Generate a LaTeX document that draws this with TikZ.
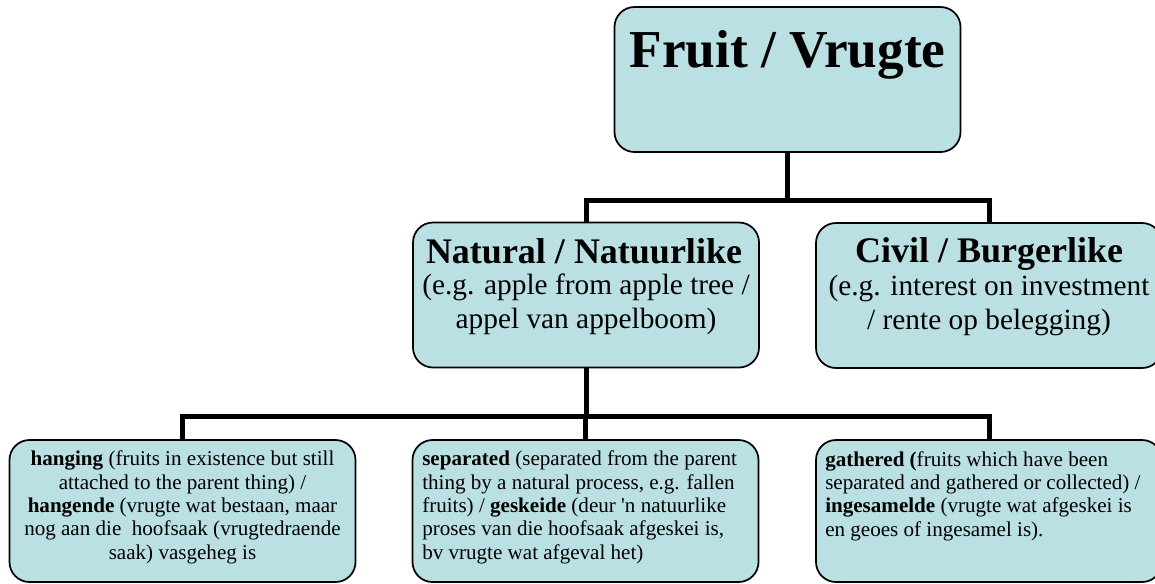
\documentclass[tikz,border=0pt]{standalone}
\usepackage{fontspec}
\setmainfont{Liberation Serif}
\newfontfamily\plainserif{Liberation Serif}
\definecolor{boxblue}{RGB}{187,224,227}

\begin{document}
\begin{tikzpicture}[x=0.75pt, y=-0.75pt,
        box/.style={draw=black, fill=boxblue, line width=1.3pt, rounded corners=15pt, minimum width=259.5pt, minimum height=108.75pt, inner sep=0pt},
        lowbox/.style={box, minimum height=106.5pt},
        link/.style={line width=3.75pt},
        bigtitle/.style={font=\fontsize{40}{46}\selectfont\bfseries, inner sep=0pt},
        midtitle/.style={font=\fontsize{27}{31}\selectfont\bfseries, inner sep=0pt, text depth=0pt},
        midtext/.style={font=\fontsize{22}{25.5}\selectfont, align=center, inner sep=0pt},
        lowtext/.style={font=\fontsize{15.8}{17.5}\selectfont, inner sep=0pt}]
        \useasboundingbox (0,0) rectangle (1155,583);

        % boxes
        \node[box] (fruit) at (787.5, 79.5) {};
        \node[box] (natural) at (586.0, 295.0) {};
        \node[box] (civil) at (989.0, 295.5) {};
        \node[lowbox] (hanging) at (182.5, 511.0) {};
        \node[lowbox] (separated) at (585.5, 511.0) {};
        \node[lowbox] (gathered) at (989.0, 511.0) {};

        % connectors
        \draw[link] (fruit.south) -- ++(0, 48) -| (natural.north);
        \draw[link] (fruit.south) -- ++(0, 48) -| (civil.north);
        \draw[link] (natural.south) -- ++(0, 48) -| (hanging.north);
        \draw[link] (natural.south) -- ++(0, 48) -| (separated.north);
        \draw[link] (natural.south) -- ++(0, 48) -| (gathered.north);

        % texts (multi-line nodes sit on the baseline of their last line)
        \node[bigtitle, anchor=base] (fruittitle) at (787.5, 67) {Fruit / Vrugte};

        \node[midtitle, anchor=base] (naturaltitle) at (584.0, 263) {Natural / Natuurlike};
        \node[midtext, anchor=base] (naturaltext) at (586.0, 328) {(e.g. apple from apple tree /\\appel van appelboom)};

        \node[midtitle, anchor=base] (civiltitle) at (989.0, 262) {Civil / Burgerlike};
        \node[midtext, anchor=base] (civiltext) at (989.0, 329) {(e.g. interest on investment\\/ rente op belegging)};

        \node[lowtext, align=center, anchor=base] (hangingtext) at (182.5, 559) {\textbf{hanging} (fruits in existence but still\\attached to the parent thing) /\\\textbf{hangende} (vrugte wat bestaan, maar\\nog aan die~ hoofsaak (vrugtedraende\\saak) vasgeheg is};
        \node[lowtext, align=left, anchor=base west] (separatedtext) at (422, 559) {\textbf{separated} (separated from the parent\\thing by a natural process, e.g. fallen\\fruits) / \textbf{geskeide} (deur {\plainserif '}n natuurlike\\proses van die hoofsaak afgeskei is,\\bv vrugte wat afgeval het)};
        \node[lowtext, align=left, anchor=base west] (gatheredtext) at (825, 536) {\textbf{gathered (}fruits which have been\\separated and gathered or collected) /\\\textbf{ingesamelde} (vrugte wat afgeskei is\\en geoes of ingesamel is).};
\end{tikzpicture}
\end{document}
